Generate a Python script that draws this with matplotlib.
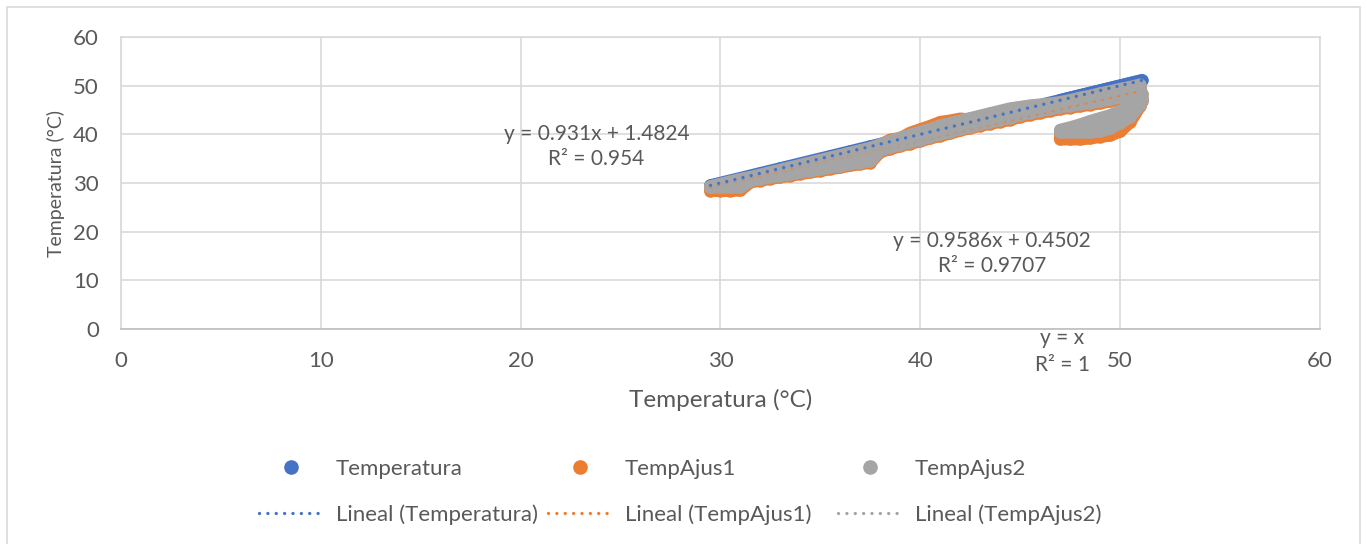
import matplotlib.pyplot as plt
from matplotlib.lines import Line2D
from matplotlib.patches import Rectangle

plt.rcParams['font.family'] = ['Lato', 'DejaVu Sans']
plt.rcParams['text.color'] = '#595959'

# sensor temperature (x), main heating ramp
temp_main = [29.5, 30.0, 30.5, 31.0, 31.5, 32.0, 32.5, 33.0, 33.5, 34.0, 34.5,
             35.0, 35.5, 36.0, 36.5, 37.0, 37.5, 38.0, 38.5, 39.0, 39.5, 40.0,
             40.5, 41.0, 41.5, 42.0, 42.5, 43.0, 43.5, 44.0, 44.5, 45.0, 45.5,
             46.0, 46.5, 47.0, 47.5, 48.0, 48.5, 49.0, 49.5, 50.0, 50.5, 51.0]

# TempAjus2 readings along the ramp (top, middle and bottom of the cloud)
ajus2_hi = [29.3, 29.8, 30.3, 30.8, 31.2, 31.7, 32.2, 32.7, 33.2, 33.7, 34.2,
            34.7, 35.2, 35.7, 36.2, 36.7, 37.2, 37.9, 38.6, 39.3, 39.9, 40.5,
            41.1, 41.8, 42.3, 42.8, 43.3, 43.8, 44.3, 44.8, 45.3, 45.6, 45.9,
            46.1, 46.3, 46.6, 47.0, 47.5, 47.9, 48.4, 48.8, 49.3, 49.7, 50.2]
ajus2_mid = [29.2, 29.5, 29.7, 29.9, 30.9, 31.2, 31.7, 32.1, 32.4, 32.9, 33.3,
             33.7, 34.1, 34.5, 35.0, 35.4, 35.9, 37.3, 38.0, 38.6, 39.2, 39.7,
             40.3, 40.9, 41.4, 42.0, 42.5, 43.0, 43.4, 43.9, 44.4, 44.8, 45.2,
             45.5, 45.8, 46.1, 46.5, 46.8, 47.2, 47.6, 48.0, 48.4, 48.8, 49.3]
ajus2_lo = [29.1, 29.1, 29.1, 29.1, 30.5, 30.8, 31.2, 31.5, 31.8, 32.2, 32.5,
            32.8, 33.2, 33.5, 33.9, 34.2, 34.5, 36.7, 37.3, 37.9, 38.4, 38.9,
            39.5, 40.0, 40.5, 41.1, 41.6, 42.1, 42.5, 43.0, 43.4, 44.0, 44.4,
            44.8, 45.2, 45.6, 45.9, 46.2, 46.5, 46.8, 47.2, 47.6, 48.0, 48.4]

# TempAjus1 readings along the ramp
ajus1_hi = [29.0, 29.5, 30.0, 30.4, 30.9, 31.3, 31.8, 32.3, 32.7, 33.2, 33.7,
            34.2, 34.7, 35.2, 35.7, 36.3, 36.9, 37.8, 38.9, 39.2, 40.3, 41.0,
            41.7, 42.5, 42.8, 43.2, 43.0, 43.5, 44.0, 44.5, 45.0, 45.3, 45.6,
            45.8, 46.0, 46.3, 46.7, 47.1, 47.5, 48.0, 48.4, 48.8, 49.3, 49.8]
ajus1_mid = [28.9, 29.2, 29.4, 29.6, 30.6, 30.9, 31.4, 31.8, 32.1, 32.6, 33.0,
             33.4, 33.8, 34.2, 34.7, 35.1, 35.6, 37.0, 37.7, 38.3, 38.9, 39.4,
             40.0, 40.6, 41.1, 41.7, 42.2, 42.7, 43.1, 43.6, 44.1, 44.5, 44.9,
             45.2, 45.5, 45.8, 46.2, 46.5, 46.9, 47.3, 47.7, 48.1, 48.5, 49.0]
ajus1_lo = [28.4, 28.4, 28.4, 28.5, 30.2, 30.5, 30.9, 31.2, 31.5, 31.9, 32.2,
            32.5, 32.9, 33.2, 33.6, 33.9, 34.2, 36.4, 37.0, 37.6, 38.1, 38.6,
            39.2, 39.7, 40.2, 40.8, 41.3, 41.8, 42.2, 42.6, 43.0, 43.6, 44.0,
            44.4, 44.8, 45.2, 45.5, 45.8, 46.1, 46.4, 46.8, 47.2, 47.6, 48.0]

# return branch near the top of the range
temp_ret = [47.0, 47.5, 48.0, 48.5, 49.0, 49.5, 50.0, 50.5, 51.0, 51.1]
ajus2_ret_hi = [40.9, 41.4, 42.0, 42.7, 43.3, 43.9, 44.8, 45.6, 46.8, 48.3]
ajus2_ret_mid = [40.6, 40.9, 41.2, 41.6, 42.0, 42.4, 43.5, 44.6, 46.4, 47.5]
ajus2_ret_lo = [40.4, 40.4, 40.4, 40.4, 40.6, 41.2, 42.3, 43.6, 46.0, 47.0]
ajus1_ret_hi = [40.5, 41.0, 41.6, 42.3, 42.9, 43.5, 44.4, 45.2, 46.4, 48.2]
ajus1_ret_mid = [39.8, 40.0, 40.3, 40.6, 41.0, 41.5, 42.0, 43.6, 46.0, 47.2]
ajus1_ret_lo = [39.0, 39.0, 39.0, 39.2, 39.5, 39.8, 40.6, 42.5, 45.8, 46.8]

# trendline coefficients shown on the chart (slope, intercept, label)
fit_temp = (1.0, 0.0, 'y = x\nR² = 1')
fit_ajus1 = (0.931, 1.4824, 'y = 0.931x + 1.4824\nR² = 0.954')
fit_ajus2 = (0.9586, 0.4502, 'y = 0.9586x + 0.4502\nR² = 0.9707')

blue = '#4472C4'
orange = '#ED7D31'
gray = '#A5A5A5'

fig = plt.figure(figsize=(13.67, 5.44), dpi=100)
ax = fig.add_axes([0.0885, 0.3952, 0.8771, 0.5368])

# dense markers: consecutive readings overlap into a band
mk = 9.0


def cloud(xs, ys, color, z):
    ax.plot(xs, ys, color=color, lw=mk, solid_capstyle='round',
            solid_joinstyle='round', marker='o', markersize=mk,
            markeredgewidth=0, zorder=z)


cloud(temp_main, temp_main, blue, 3)
cloud(temp_ret, temp_ret, blue, 3)
for ys in [ajus1_hi, ajus1_mid, ajus1_lo]:
    cloud(temp_main, ys, orange, 4)
for ys in [ajus1_ret_hi, ajus1_ret_mid, ajus1_ret_lo]:
    cloud(temp_ret, ys, orange, 4)
for ys in [ajus2_hi, ajus2_mid, ajus2_lo]:
    cloud(temp_main, ys, gray, 5)
for ys in [ajus2_ret_hi, ajus2_ret_mid, ajus2_ret_lo]:
    cloud(temp_ret, ys, gray, 5)

dots = (0, (0.01, 2.5))
xmin, xmax = min(temp_main + temp_ret), max(temp_main + temp_ret)
for (m, b, lab), c in zip([fit_temp, fit_ajus1, fit_ajus2], [blue, orange, gray]):
    ax.plot([xmin, xmax], [m * xmin + b, m * xmax + b], color=c, lw=2.4,
            linestyle=dots, dash_capstyle='round', zorder=6)

ax.text(23.8, 37.5, fit_ajus1[2], ha='center', va='center', fontsize=15,
        linespacing=1.3)
ax.text(43.6, 15.5, fit_ajus2[2], ha='center', va='center', fontsize=15,
        linespacing=1.3)
ax.text(47.1, -4.6, fit_temp[2], ha='center', va='center', fontsize=15,
        linespacing=1.4, clip_on=False, zorder=7)

ax.set_xlim(0, 60)
ax.set_ylim(0, 60)
ax.set_xticks(range(0, 61, 10))
ax.set_yticks(range(0, 61, 10))
ax.grid(True, color='#D9D9D9', lw=1.2, zorder=0)
ax.set_axisbelow(True)
for s in ['top', 'right', 'left']:
    ax.spines[s].set_color('#D9D9D9')
    ax.spines[s].set_linewidth(1.2)
ax.spines['bottom'].set_color('#BFBFBF')
ax.spines['bottom'].set_linewidth(1.2)
ax.tick_params(length=0, labelsize=16, labelcolor='#595959')
ax.tick_params(axis='x', pad=16)
ax.tick_params(axis='y', pad=16)
ax.set_xlabel('Temperatura (°C)', fontsize=17.5, color='#595959', labelpad=13)
ax.set_ylabel('Temperatura (°C)', fontsize=14, color='#595959', labelpad=6)

names = ['Temperatura', 'TempAjus1', 'TempAjus2']
colors = [blue, orange, gray]
col_x = [259, 548, 838]
for name, c, px in zip(names, colors, col_x):
    handles = [Line2D([], [], marker='o', ls='none', color=c, markersize=9.5),
               Line2D([], [], color=c, lw=2.4, linestyle=dots,
                      dash_capstyle='round')]
    fig.legend(handles, [name, f'Lineal ({name})'], loc='center left',
               bbox_to_anchor=(px / 1367, 1 - 492 / 544), frameon=False,
               fontsize=16, handlelength=2.85, handletextpad=0.6,
               borderpad=0, borderaxespad=0, labelspacing=1.15,
               labelcolor='#595959')

fig.patches.append(Rectangle((0.005, -0.1), 0.99, 1.087, fill=False,
                             edgecolor='#D9D9D9', lw=1.2,
                             transform=fig.transFigure))

fig.savefig('out.png', dpi=100)
